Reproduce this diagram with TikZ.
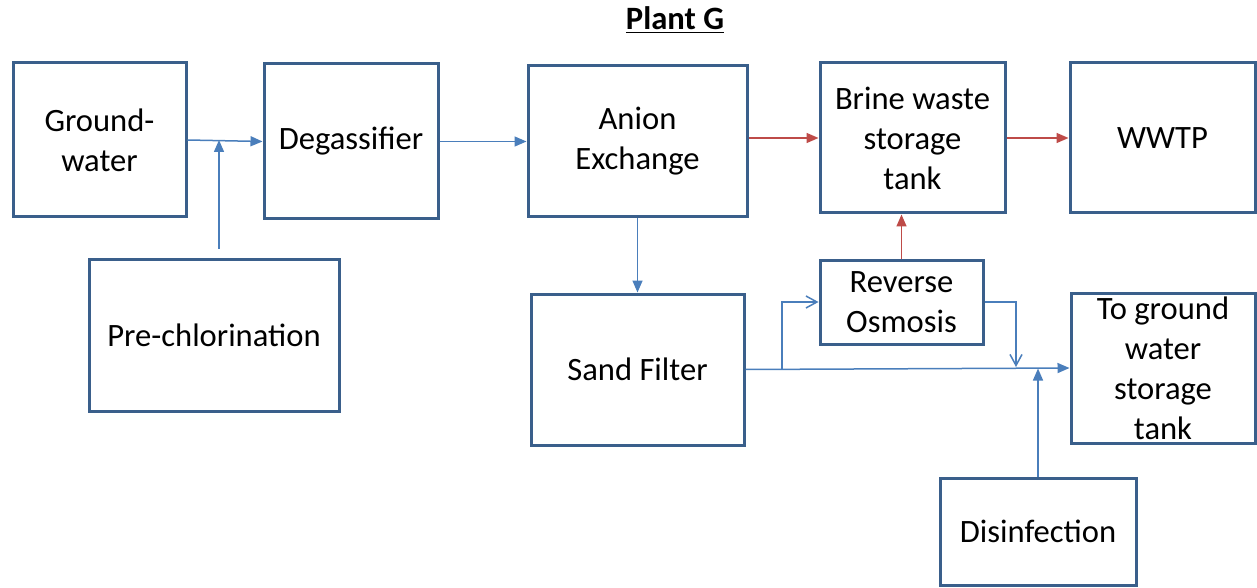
\documentclass[tikz,border=0pt]{standalone}
\usepackage{fontspec}
\setmainfont{Carlito}
\usetikzlibrary{arrows.meta}
\definecolor{boxline}{HTML}{3A5F8B}
\definecolor{flowblue}{HTML}{4A7EBB}
\definecolor{brinered}{HTML}{BE4B48}
\tikzset{
  unit/.style={draw=boxline, line width=1.5pt, fill=white, align=center,
    inner sep=0pt, font=\fontsize{16.3}{20}\selectfont},
  flow/.style={draw=flowblue, line width=0.75pt, -{Triangle[length=6pt,width=5pt]}},
  flowopen/.style={draw=flowblue, line width=0.75pt, -{Straight Barb[length=5.5pt,width=6pt]}},
  brine/.style={draw=brinered, line width=0.75pt, -{Triangle[length=6pt,width=5pt]}}
}
\begin{document}
\begin{tikzpicture}[x=0.5pt,y=-0.5pt]
\useasboundingbox (0,0) rectangle (1257,588);

\node[font=\fontsize{16.3}{20}\selectfont\bfseries] (title) at (675,20) {\underline{Plant G}};

% process units
\node[unit, minimum width=86.5pt, minimum height=77pt] (gw)    at (99.5,140)   {Ground-\\water};
\node[unit, minimum width=87pt,   minimum height=77.5pt] (deg) at (351,141.5)  {Degassifier};
\node[unit, minimum width=109.5pt,minimum height=75.5pt] (anion) at (637.5,141.5) {Anion\\Exchange};
\node[unit, minimum width=92.5pt, minimum height=75pt] (bt)    at (912.5,138)  {Brine waste\\storage\\tank};
\node[unit, minimum width=92.5pt, minimum height=75pt] (wwtp)  at (1162.5,138) {WWTP};
\node[unit, minimum width=125pt,  minimum height=76pt] (prec)  at (214,335)    {Pre-chlorination};
\node[unit, minimum width=106.5pt,minimum height=75.5pt] (sand) at (637.5,369.5) {Sand Filter};
\node[unit, minimum width=81.5pt, minimum height=42pt] (ro)    at (901.5,302)  {Reverse\\Osmosis};
\node[unit, minimum width=92pt,   minimum height=75pt] (tank)  at (1163,368)   {To ground\\water\\storage\\tank};
\node[unit, minimum width=98pt,   minimum height=53.5pt] (dis) at (1038,531.5) {Disinfection};

% junction points on the lines
\coordinate (pretop)  at (219,249);
\coordinate (prejoin) at (219,140);
\coordinate (branch)  at (782,369);
\coordinate (rojoin)  at (1016,367);
\coordinate (disjoin) at (1038,368.5);

% main treatment line
\draw[flow] (gw.east) -- (deg.west);
\draw[flow] (pretop) -- (prejoin);
\draw[flow] (deg.east) -- (anion.west);
\draw[flow] (anion.south) -- (sand.north);
\draw[flow] (sand.east) -- (tank.west);
\draw[flowopen] (branch) |- (ro.west);
\draw[flowopen] (ro.east) -| (rojoin);
\draw[flow] (dis.north) -- (disjoin);

% brine waste line
\draw[brine] (anion.east |- bt.west) -- (bt.west);
\draw[brine] (bt.east) -- (wwtp.west);
\draw[brine] (ro.north) -- (ro.north |- bt.south);
\end{tikzpicture}
\end{document}
